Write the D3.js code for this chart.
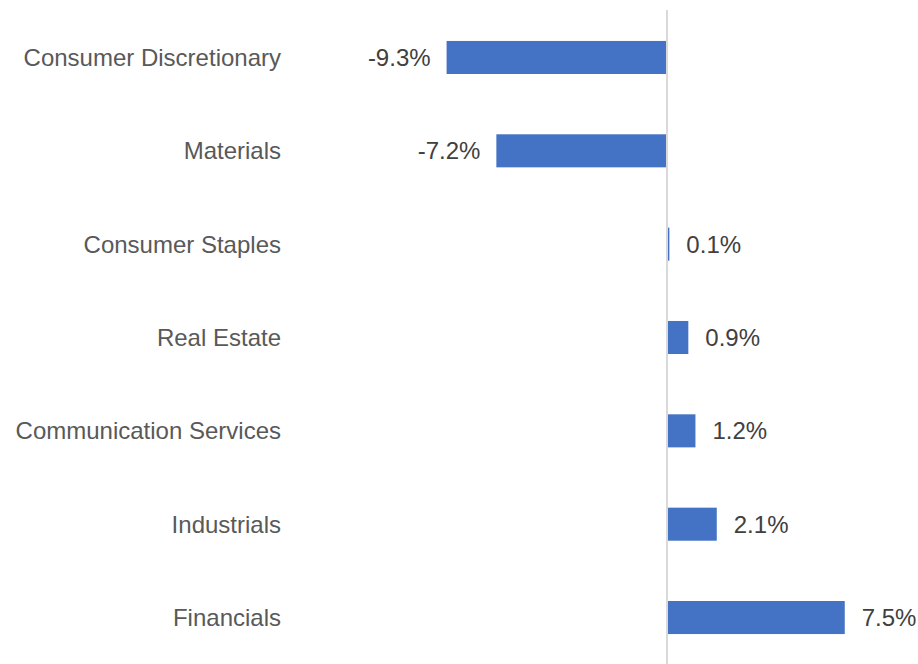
<!DOCTYPE html>
<html>
<head>
<meta charset="utf-8">
<script src="https://cdn.jsdelivr.net/npm/d3@7"></script>
<style>
  body { margin: 0; background: #fff; }
  svg { display: block; }
  text { font-family: "Liberation Sans", Arial, sans-serif; }
</style>
</head>
<body>
<svg id="chart" width="918" height="664"></svg>
<script>
// sectors and their returns (%)
const sectors = ['Consumer Discretionary', 'Materials', 'Consumer Staples', 'Real Estate',
                 'Communication Services', 'Industrials', 'Financials'];
const returns = [-9.3, -7.2, 0.1, 0.9, 1.2, 2.1, 7.5];

const svg = d3.select('#chart');

const x = d3.scaleLinear().domain([-10, 8]).range([430, 856.6]);
const y = d3.scaleBand().domain(sectors).range([10.8, 664.2])
    .paddingInner(0.646).paddingOuter(0.323);

const rows = sectors.map((s, i) => ({ name: s, value: returns[i] }));

// bars
svg.append('g').selectAll('rect')
    .data(rows)
    .join('rect')
    .attr('x', d => x(Math.min(0, d.value)))
    .attr('y', d => y(d.name))
    .attr('width', d => Math.abs(x(d.value) - x(0)))
    .attr('height', y.bandwidth())
    .attr('fill', '#4472c4');

// zero line
svg.append('line')
    .attr('x1', x(0)).attr('x2', x(0))
    .attr('y1', 10).attr('y2', 664)
    .attr('stroke', '#d9d9d9')
    .attr('stroke-width', 2);

// category labels
svg.append('g').selectAll('text')
    .data(rows)
    .join('text')
    .attr('x', 281)
    .attr('y', d => y(d.name) + y.bandwidth() / 2)
    .attr('dy', '0.35em')
    .attr('text-anchor', 'end')
    .attr('font-size', 24)
    .attr('fill', '#595959')
    .text(d => d.name);

// value labels
svg.append('g').selectAll('text')
    .data(rows)
    .join('text')
    .attr('x', d => d.value < 0 ? x(d.value) - 16 : x(d.value) + 17)
    .attr('y', d => y(d.name) + y.bandwidth() / 2)
    .attr('dy', '0.35em')
    .attr('text-anchor', d => d.value < 0 ? 'end' : 'start')
    .attr('font-size', 24)
    .attr('fill', '#404040')
    .text(d => d.value.toFixed(1) + '%');
</script>
</body>
</html>
